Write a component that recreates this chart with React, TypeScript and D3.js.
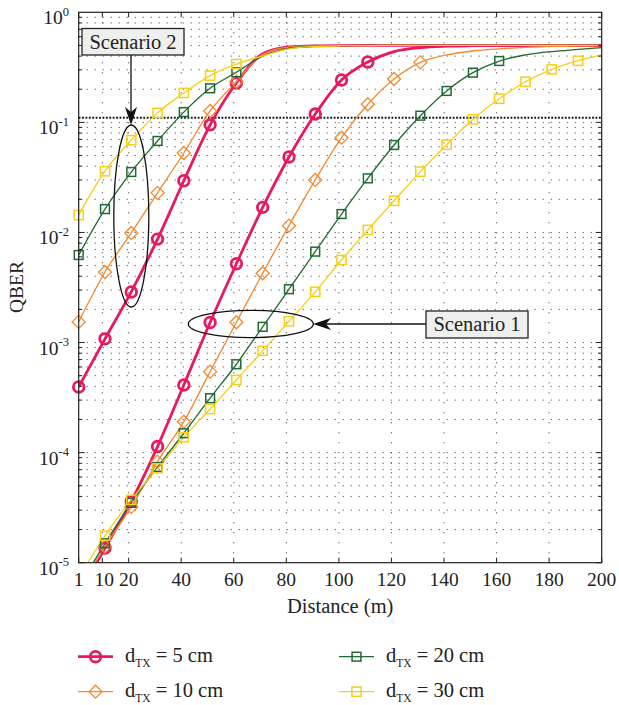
import React from "react";
import * as d3 from "d3";

// Distances (m) at which values are read
const distances = [1, 11, 21, 31, 41, 51, 61, 71, 81, 91, 101, 111, 121, 131, 141, 151, 161, 171, 181, 191, 200];

// Scenario 2 curves
const red2 = [3.95e-4, 1.08e-3, 2.88e-3, 8.7e-3, 0.0295, 0.095, 0.228, 0.42, 0.485, 0.496, 0.499, 0.5, 0.5, 0.5, 0.5, 0.5, 0.5, 0.5, 0.5, 0.5, 0.5];
const orange2 = [1.54e-3, 4.37e-3, 9.9e-3, 0.0229, 0.0527, 0.127, 0.234, 0.415, 0.482, 0.495, 0.499, 0.5, 0.5, 0.5, 0.5, 0.5, 0.5, 0.5, 0.5, 0.5, 0.5];
const green2 = [6.24e-3, 0.0163, 0.0354, 0.0678, 0.124, 0.204, 0.285, 0.4, 0.47, 0.492, 0.498, 0.5, 0.5, 0.5, 0.5, 0.5, 0.5, 0.5, 0.5, 0.5, 0.5];
const yellow2 = [0.0144, 0.036, 0.069, 0.122, 0.185, 0.266, 0.339, 0.4, 0.465, 0.49, 0.497, 0.499, 0.5, 0.5, 0.5, 0.5, 0.5, 0.5, 0.5, 0.5, 0.5];

// Scenario 1 curves
const red1 = [5.1e-6, 1.36e-5, 3.6e-5, 1.135e-4, 4.12e-4, 1.52e-3, 5.2e-3, 0.0169, 0.0485, 0.119, 0.243, 0.354, 0.44, 0.478, 0.492, 0.497, 0.499, 0.5, 0.5, 0.5, 0.5];
const orange1 = [5.7e-6, 1.4e-5, 3.21e-5, 8.28e-5, 1.91e-4, 5.44e-4, 1.53e-3, 4.26e-3, 0.01153, 0.03, 0.0726, 0.146, 0.248, 0.351, 0.41, 0.445, 0.465, 0.48, 0.49, 0.495, 0.498];
const green1 = [6e-6, 1.5e-5, 3.5e-5, 7.4e-5, 1.5e-4, 3.12e-4, 6.35e-4, 1.39e-3, 3.05e-3, 6.7e-3, 0.0147, 0.031, 0.0623, 0.115, 0.193, 0.283, 0.361, 0.41, 0.44, 0.46, 0.478];
const yellow1 = [7.2e-6, 1.76e-5, 3.72e-5, 7.2e-5, 1.38e-4, 2.49e-4, 4.57e-4, 8.4e-4, 1.56e-3, 2.89e-3, 5.62e-3, 0.01054, 0.0194, 0.0357, 0.0627, 0.1067, 0.164, 0.234, 0.303, 0.363, 0.41];

const xTicks = [1, 10, 20, 40, 60, 80, 100, 120, 140, 160, 180, 200];
const yExponents = [0, -1, -2, -3, -4, -5];
const threshold = 0.11;

const legendLabels = ["5 cm", "10 cm", "20 cm", "30 cm"];

type Marker = "circle" | "diamond" | "square";
const seriesDefs = [
  { name: "red", s1: red1, s2: red2, color: "#e8195d", width: 2.8, marker: "circle" as Marker, m1: [1, 11], m2: [0, 6] },
  { name: "orange", s1: orange1, s2: orange2, color: "#f5882c", width: 1.3, marker: "diamond" as Marker, m1: [1, 13], m2: [0, 6] },
  { name: "green", s1: green1, s2: green2, color: "#1f6a30", width: 1.3, marker: "square" as Marker, m1: [1, 16], m2: [0, 6] },
  { name: "yellow", s1: yellow1, s2: yellow2, color: "#f8cf16", width: 1.3, marker: "square" as Marker, m1: [1, 19], m2: [0, 6] },
];

const W = 619, H = 705;
const L = 78.7, R = 601.7, T = 12.3, B = 562.7;
const FONT = "'Liberation Serif', 'DejaVu Serif', serif";

function MarkerShape({ type, x, y, color, big }: { type: Marker; x: number; y: number; color: string; big?: boolean }) {
  if (type === "circle") {
    return <circle cx={x} cy={y} r={5.3} fill="none" stroke={color} strokeWidth={2.8} />;
  }
  if (type === "diamond") {
    const s = 6.5;
    return <path d={`M${x},${y - s}L${x + s},${y}L${x},${y + s}L${x - s},${y}Z`} fill="none" stroke={color} strokeWidth={1.3} />;
  }
  const h = big ? 4.6 : 4.4;
  return <rect x={x - h} y={y - h} width={2 * h} height={2 * h} fill="none" stroke={color} strokeWidth={1.5} />;
}

export default function App() {
  const x = d3.scaleLinear().domain([1, 200]).range([L, R]);
  const y = d3.scaleLog().domain([1e-5, 1]).range([B, T]);

  const line = d3
    .line<number>()
    .x((_, i) => x(distances[i]))
    .y((v) => y(v))
    .curve(d3.curveMonotoneX);

  const minorVals: number[] = [];
  for (let e = -5; e < 0; e++) for (let k = 1; k <= 9; k++) minorVals.push(k * Math.pow(10, e));

  const stealth = (tx: number, ty: number, dir: "down" | "left") => {
    if (dir === "down") return `M${tx},${ty}L${tx - 6},${ty - 18}L${tx},${ty - 13}L${tx + 6},${ty - 18}Z`;
    return `M${tx},${ty}L${tx + 18},${ty - 6}L${tx + 13},${ty}L${tx + 18},${ty + 6}Z`;
  };

  return (
    <svg width={W} height={H} style={{ position: "absolute", left: 0, top: 0, background: "#fff" }} fontFamily={FONT}>
      <defs>
        <clipPath id="plot">
          <rect x={L} y={T} width={R - L} height={B - T} />
        </clipPath>
      </defs>

      {/* grid */}
      <g stroke="#333" strokeWidth={1} fill="none">
        {minorVals.filter((v) => v > 1e-5).map((v, i) => (
          <line key={"h" + i} x1={L} x2={R} y1={y(v)} y2={y(v)} strokeDasharray="1,7" />
        ))}
        {xTicks.filter((t) => t > 1 && t < 200).map((t) => (
          <line key={"v" + t} x1={x(t)} x2={x(t)} y1={T} y2={B} strokeDasharray="1,9" />
        ))}
      </g>

      {/* threshold line */}
      <line x1={L} x2={R} y1={y(threshold)} y2={y(threshold)} stroke="#111" strokeWidth={2} strokeDasharray="1.8,1.6" />

      {/* curves */}
      <g clipPath="url(#plot)">
        {seriesDefs.map((s) => (
          <g key={s.name}>
            <path d={line(s.s2) || ""} fill="none" stroke={s.color} strokeWidth={s.width} />
            <path d={line(s.s1) || ""} fill="none" stroke={s.color} strokeWidth={s.width} />
          </g>
        ))}
      </g>
      {seriesDefs.map((s) => (
        <g key={s.name + "m"}>
          {s.s2.map((v, i) =>
            i >= s.m2[0] && i <= s.m2[1] ? (
              <MarkerShape key={"a" + i} type={s.marker} x={x(distances[i])} y={y(v)} color={s.color} big={s.name === "yellow"} />
            ) : null
          )}
          {s.s1.map((v, i) =>
            i >= s.m1[0] && i <= s.m1[1] ? (
              <MarkerShape key={"b" + i} type={s.marker} x={x(distances[i])} y={y(v)} color={s.color} big={s.name === "yellow"} />
            ) : null
          )}
        </g>
      ))}

      {/* frame and ticks */}
      <rect x={L} y={T} width={R - L} height={B - T} fill="none" stroke="#222" strokeWidth={1.2} />
      <g stroke="#222" strokeWidth={1}>
        {minorVals.map((v, i) => {
          const major = Math.abs(Math.log10(v) - Math.round(Math.log10(v))) < 1e-9;
          const len = major ? 6 : 3.5;
          return (
            <g key={"yt" + i}>
              <line x1={L} x2={L + len} y1={y(v)} y2={y(v)} />
              <line x1={R} x2={R - len} y1={y(v)} y2={y(v)} />
            </g>
          );
        })}
        {xTicks.map((t) => (
          <g key={"xt" + t}>
            <line x1={x(t)} x2={x(t)} y1={B} y2={B - 5} />
            <line x1={x(t)} x2={x(t)} y1={T} y2={T + 5} />
          </g>
        ))}
      </g>

      {/* tick labels */}
      <g fontSize={19.5} fill="#222">
        {xTicks.map((t) => (
          <text key={"xl" + t} x={x(t) + (t === 10 ? 2 : 0)} y={586} textAnchor="middle">
            {t}
          </text>
        ))}
        {yExponents.map((e) => (
          <text key={"yl" + e} x={69} y={y(Math.pow(10, e)) + 12} textAnchor="end">
            10
            <tspan fontSize={12.5} dy={-8.5}>
              {e === 0 ? "0" : "-" + Math.abs(e)}
            </tspan>
          </text>
        ))}
      </g>

      {/* axis titles */}
      <text x={(L + R) / 2} y={613} textAnchor="middle" fontSize={20.5} fill="#222">
        Distance (m)
      </text>
      <text transform={`translate(23,287) rotate(-90)`} textAnchor="middle" fontSize={19.5} fill="#222">
        QBER
      </text>

      {/* annotations */}
      <g stroke="#111" strokeWidth={1.3} fill="none">
        <ellipse cx={131.3} cy={216} rx={17.5} ry={91} />
        <ellipse cx={250.8} cy={324} rx={62.5} ry={13.6} />
        <line x1={131} x2={131} y1={55} y2={115} />
        <line x1={426} x2={325} y1={324} y2={324} />
      </g>
      <path d={stealth(131, 125, "down")} fill="#111" />
      <path d={stealth(313, 324, "left")} fill="#111" />
      <rect x={82} y={28.5} width={102} height={26.5} fill="#eef0ee" stroke="#222" strokeWidth={1.3} />
      <text x={133} y={48.5} textAnchor="middle" fontSize={20.5} fill="#222">
        Scenario 2
      </text>
      <rect x={426} y={311} width={102} height={27} fill="#eef0ee" stroke="#222" strokeWidth={1.3} />
      <text x={477} y={331} textAnchor="middle" fontSize={20.5} fill="#222">
        Scenario 1
      </text>

      {/* legend */}
      {seriesDefs.map((s, i) => {
        const col = i < 2 ? 0 : 1;
        const row = i % 2;
        const lx = col === 0 ? 78 : 339;
        const ly = row === 0 ? 656.7 : 691.7;
        return (
          <g key={"lg" + s.name}>
            <line x1={lx} x2={lx + 35} y1={ly} y2={ly} stroke={s.color} strokeWidth={s.width} />
            <MarkerShape type={s.marker} x={lx + 17.5} y={ly} color={s.color} big={s.name === "yellow"} />
            <text x={lx + 47} y={ly + 5.5} fontSize={20.5} fill="#222">
              d
              <tspan fontSize={11.5} dy={5}>
                TX
              </tspan>
              <tspan dy={-5}>{" = " + legendLabels[i]}</tspan>
            </text>
          </g>
        );
      })}
    </svg>
  );
}
